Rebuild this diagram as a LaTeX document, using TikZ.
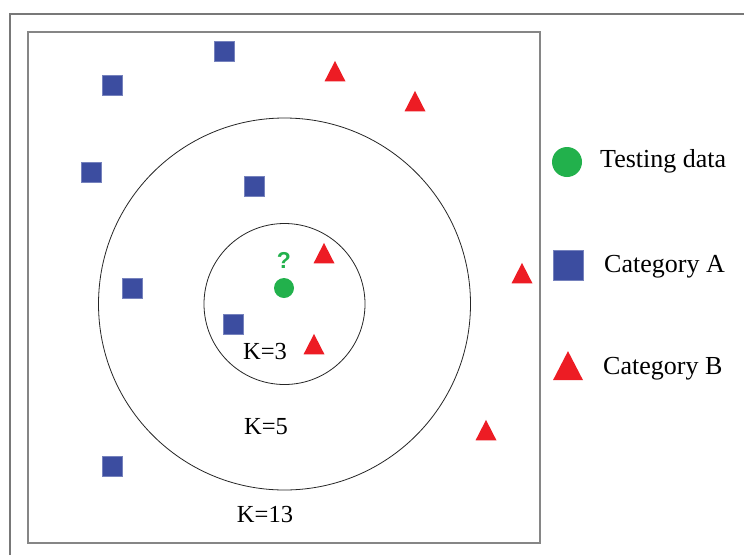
\documentclass[tikz,border=0pt]{standalone}
\usepackage{fontspec}
\setmainfont{Liberation Serif}
\newfontfamily\qfont{Liberation Sans}
\usetikzlibrary{shapes.geometric}
\definecolor{catA}{RGB}{60,77,160}
\definecolor{catB}{RGB}{237,28,36}
\definecolor{testG}{RGB}{34,177,76}
\definecolor{frameG}{RGB}{120,120,120}
\tikzset{
  sqA/.style={fill=catA, draw=catA!70!white, line width=0.4pt, inner sep=0pt, minimum size=20.5pt, shape=rectangle},
  triB/.style={fill=catB, inner sep=0pt, isosceles triangle, isosceles triangle stretches, shape border rotate=90, minimum width=21pt, minimum height=20.5pt},
  dotT/.style={fill=testG, circle, inner sep=0pt, minimum size=20pt},
  lab/.style={font=\fontsize{24.5}{26}\selectfont, inner sep=0pt},
  leg/.style={font=\fontsize{26}{28}\selectfont, inner sep=0pt, anchor=west},
  ring/.style={draw=black!85, line width=0.8pt},
}
\begin{document}
\begin{tikzpicture}[x=1pt,y=-1pt]
\useasboundingbox[fill=white] (0,0) rectangle (744,555);
% frames
\draw[frameG, line width=1.5pt] (10,555) -- (10,14) -- (744,14);
\draw[frameG!90, line width=1.3pt] (28,32) rectangle (540,543);
% rings
\node[ring, circle, minimum size=372pt, inner sep=0pt] (r5) at (284.5,304) {};
\node[ring, circle, minimum size=161pt, inner sep=0pt] (r3) at (284.5,304) {};
% testing point
\node[dotT] (t) at (284,288) {};
\node[font=\qfont\bfseries\fontsize{23}{24}\selectfont, text=testG, inner sep=0pt] (q) at (284,260) {?};
% category A
\node[sqA] (a1) at (224,51) {};
\node[sqA] (a2) at (112,85) {};
\node[sqA] (a3) at (91,172) {};
\node[sqA] (a4) at (254,186) {};
\node[sqA] (a5) at (132,288) {};
\node[sqA] (a6) at (233,324) {};
\node[sqA] (a7) at (112,466) {};
% category B
\node[triB] (b1) at (335,75) {};
\node[triB] (b2) at (415,105) {};
\node[triB] (b3) at (324,257) {};
\node[triB] (b4) at (314,348) {};
\node[triB] (b5) at (522,277) {};
\node[triB] (b6) at (486,434) {};
% K labels
\node[lab] (k3) at (265,352) {K=3};
\node[lab] (k5) at (266,427) {K=5};
\node[lab] (k13) at (265,514) {K=13};
% legend
\node[dotT, minimum size=30pt] (lt) at (567,162) {};
\node[sqA, minimum size=30pt] (la) at (568,265) {};
\node[triB, minimum width=30pt, minimum height=29pt] (lb) at (568,371) {};
\node[leg] (ltt) at (600,161) {Testing data};
\node[leg] (lat) at (604,267) {Category A};
\node[leg] (lbt) at (603,369) {Category B};
\end{tikzpicture}
\end{document}
